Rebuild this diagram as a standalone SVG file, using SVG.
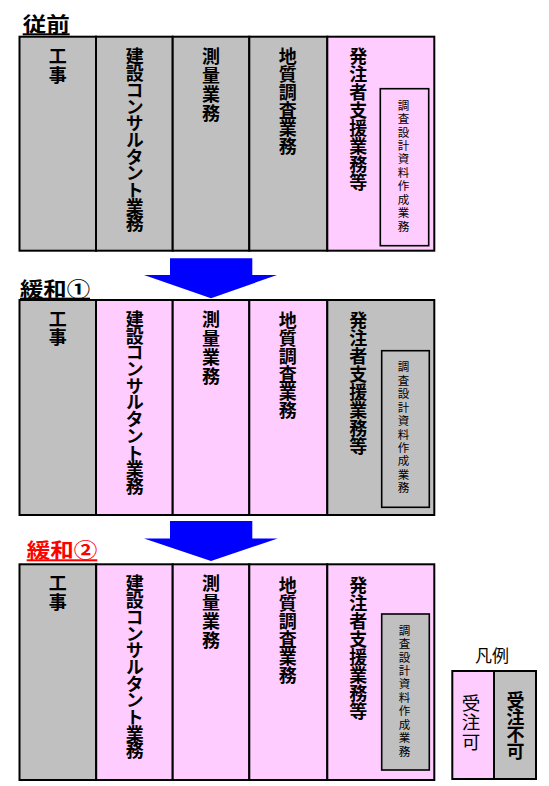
<svg xmlns="http://www.w3.org/2000/svg" width="549" height="786" viewBox="0 0 549 786">
<style>
.g{fill:#c0c0c0;stroke:#000;stroke-width:2}
.p{fill:#ffccff;stroke:#000;stroke-width:2}
.ig{fill:#c0c0c0;stroke:#000;stroke-width:1.6}
.ip{fill:#ffccff;stroke:#000;stroke-width:1.6}
.v{font-family:"Noto Sans CJK JP","Noto Sans CJK SC",sans-serif;font-weight:700;font-size:18px;writing-mode:vertical-rl;fill:#000}
.k{letter-spacing:0.5px}
.ks{letter-spacing:-1.3px}
.sk{letter-spacing:0.9px}
.ch{letter-spacing:0px}
.vs{font-family:"Noto Sans CJK JP","Noto Sans CJK SC",sans-serif;font-weight:400;font-size:11.5px;writing-mode:vertical-rl;letter-spacing:1.93px;fill:#000}
.t{font-family:"Noto Sans CJK JP","Noto Sans CJK SC",sans-serif;font-weight:700;font-size:20px;text-decoration:underline}
.l{font-family:"Noto Sans CJK JP","Noto Sans CJK SC",sans-serif;fill:#000}
.arr{fill:#0000ff}
</style>
<rect width="549" height="786" fill="#fff"/>

<!-- Titles -->
<text id="title-before" class="t" x="22.7" y="32.3" textLength="47" lengthAdjust="spacingAndGlyphs" fill="#000">従前</text>
<text id="title-r1" class="t" x="20" y="296.7" textLength="70" lengthAdjust="spacingAndGlyphs" fill="#000">緩和①</text>
<text id="title-r2" class="t" x="26.7" y="558.3" textLength="70.6" lengthAdjust="spacingAndGlyphs" fill="#ff0000">緩和②</text>

<!-- Section 1: 従前 -->
<g id="s1-kouji"><rect class="g" x="19.5" y="36.7" width="76.5" height="214"/><text class="v k" x="57.8" y="47.6">工事</text></g>
<g id="s1-kensetsu"><rect class="g" x="96" y="36.7" width="76.7" height="214"/><text class="v ks" x="134.7" y="47.6">建設コンサルタント業務</text></g>
<g id="s1-sokuryo"><rect class="g" x="172.7" y="36.7" width="76.6" height="214"/><text class="v sk" x="211" y="47.6">測量業務</text></g>
<g id="s1-chishitsu"><rect class="g" x="249.3" y="36.7" width="78" height="214"/><text class="v ch" x="287.8" y="47.6">地質調査業務</text></g>
<g id="s1-hacchu"><rect class="p" x="327.3" y="36.7" width="107" height="214"/><text class="v ch" x="358.3" y="47.6">発注者支援業務等</text>
<rect class="ip" x="380.3" y="88.7" width="48.4" height="157"/><text class="vs" x="403.5" y="99.65">調査設計資料作成業務</text></g>

<!-- Section 2: 緩和① -->
<g id="s2-kouji"><rect class="g" x="19.5" y="300" width="76.5" height="215"/><text class="v k" x="57.8" y="310.1">工事</text></g>
<g id="s2-kensetsu"><rect class="p" x="96" y="300" width="76.7" height="215"/><text class="v ks" x="134.7" y="310.1">建設コンサルタント業務</text></g>
<g id="s2-sokuryo"><rect class="p" x="172.7" y="300" width="76.6" height="215"/><text class="v sk" x="211" y="310.1">測量業務</text></g>
<g id="s2-chishitsu"><rect class="p" x="249.3" y="300" width="78" height="215"/><text class="v ch" x="287.8" y="311.6">地質調査業務</text></g>
<g id="s2-hacchu"><rect class="g" x="327.3" y="300" width="107" height="215"/><text class="v ch" x="358.3" y="311.6">発注者支援業務等</text>
<rect class="ig" x="381.7" y="350.7" width="47.6" height="156.6"/><text class="vs" x="403.5" y="361.35">調査設計資料作成業務</text></g>

<!-- Section 3: 緩和② -->
<g id="s3-kouji"><rect class="g" x="19.5" y="564.3" width="76.7" height="215.7"/><text class="v k" x="57.8" y="574.6">工事</text></g>
<g id="s3-kensetsu"><rect class="p" x="96.2" y="564.3" width="76.5" height="215.7"/><text class="v ks" x="134.7" y="574.6">建設コンサルタント業務</text></g>
<g id="s3-sokuryo"><rect class="p" x="172.7" y="564.3" width="76.6" height="215.7"/><text class="v sk" x="211" y="574.6">測量業務</text></g>
<g id="s3-chishitsu"><rect class="p" x="249.3" y="564.3" width="78" height="215.7"/><text class="v ch" x="287.8" y="576.1">地質調査業務</text></g>
<g id="s3-hacchu"><rect class="p" x="327.3" y="564.3" width="107" height="215.7"/><text class="v ch" x="358.3" y="576.1">発注者支援業務等</text>
<rect class="ig" x="381.7" y="614" width="47.6" height="156"/><text class="vs" x="404.5" y="624.65">調査設計資料作成業務</text></g>

<!-- Connectors -->
<g id="connectors">
<polygon class="arr" points="170,258.3 252.3,258.3 252.3,275 277,275 211,298.3 144,275 170,275"/>
<polygon class="arr" points="170,521 252.3,521 252.3,538.5 277.7,538.5 211,561 144,538.5 170,538.5"/>
</g>

<!-- Legend -->
<g id="legend">
<text class="l" x="492" y="661.5" font-size="17" text-anchor="middle">凡例</text>
<rect class="p" x="452.3" y="671" width="41.7" height="108"/>
<rect class="g" x="494" y="671" width="42" height="108"/>
<text class="l" x="471" y="694" font-size="18.5" style="writing-mode:vertical-rl;letter-spacing:0.7px">受注可</text>
<text class="l" x="515.5" y="691" font-size="18" font-weight="700" style="writing-mode:vertical-rl;letter-spacing:-0.8px">受注不可</text>
</g>
</svg>
